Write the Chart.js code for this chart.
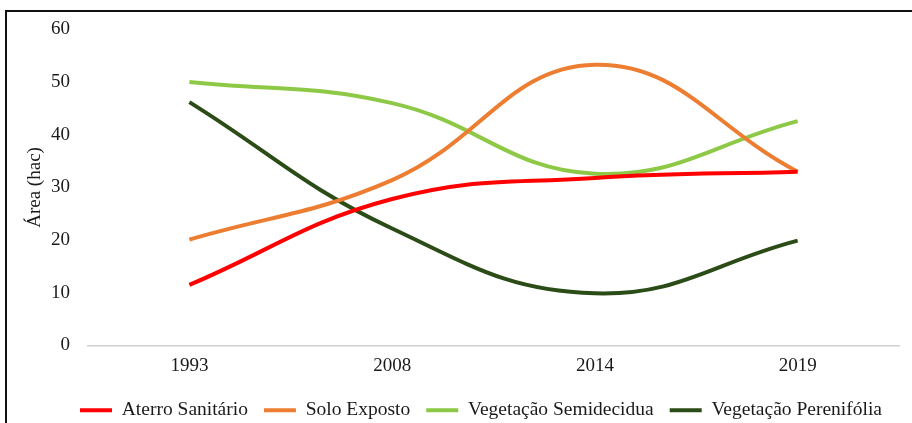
<!DOCTYPE html>
<html>
<head>
<meta charset="utf-8">
<script src="https://cdn.jsdelivr.net/npm/chart.js@4/dist/chart.umd.min.js"></script>
<style>
  html, body { margin: 0; padding: 0; background: #fff; overflow: hidden; width: 912px; height: 423px; }
  #wrap { position: relative; width: 912px; height: 423px; overflow: hidden; }
  #frame { position: absolute; left: 5px; top: 10px; width: 1000px; height: 500px;
           border-left: 2px solid #111; border-top: 2px solid #111; pointer-events: none; z-index: 2; }
  #canvas { position: absolute; left: 0; top: 0; }
</style>
</head>
<body>
<div id="wrap">
  <div id="frame"></div>
  <canvas id="canvas" width="962" height="430"></canvas>
</div>
<script>
const anos = ['1993', '2008', '2014', '2019']
const aterro = [11.5, 27.8, 31.8, 33]
const solo = [20.1, 31.4, 53.3, 33]
const semidecidua = [50, 46, 32.6, 42.6]
const perenifolia = [46.2, 22.2, 9.9, 19.9]
const nomes = ['Aterro Sanitário', 'Solo Exposto', 'Vegetação Semidecidua', 'Vegetação Perenifólia']
const cores = ['#FF0000', '#ED7D31', '#8DC947', '#2C4C17']

Chart.defaults.font.family = "'Liberation Serif', 'Times New Roman', serif"
Chart.defaults.font.size = 19
Chart.defaults.color = '#1a1a1a'

const series = [aterro, solo, semidecidua, perenifolia]
const datasets = series.map((vals, i) => ({
  label: nomes[i],
  data: vals,
  borderColor: cores[i],
  backgroundColor: cores[i],
  borderWidth: 4,
  pointRadius: 0,
  tension: 0.42,
  fill: false
}))

const ctx = document.getElementById('canvas')
new Chart(ctx, {
  type: 'line',
  data: { labels: anos, datasets: datasets },
  options: {
    responsive: false,
    animation: false,
    layout: { padding: { top: 23, bottom: 0, left: 0, right: 0 } },
    plugins: {
      tooltip: { enabled: false },
      legend: {
        position: 'bottom',
        labels: {
          usePointStyle: true,
          pointStyle: 'line',
          pointStyleWidth: 32,
          padding: 16,
          font: { size: 19.5 },
          color: '#1a1a1a'
        }
      }
    },
    scales: {
      x: {
        offset: true,
        grid: { display: false, drawTicks: false },
        border: { display: true, color: '#d0d0d0', width: 1.5 },
        ticks: { padding: 9 },
        afterFit: (s) => { s.height = 39 }
      },
      y: {
        min: 0,
        max: 60,
        ticks: { stepSize: 10, padding: 18 },
        grid: { display: false, drawTicks: false },
        border: { display: false },
        title: { display: true, text: 'Área (hac)', padding: { top: 24, bottom: 0 } },
        afterFit: (s) => { s.width = 88 }
      },
      y2: {
        position: 'right',
        display: true,
        ticks: { display: false },
        grid: { display: false, drawTicks: false },
        border: { display: false },
        afterFit: (s) => { s.width = 63 }
      }
    }
  }
})
</script>
</body>
</html>
